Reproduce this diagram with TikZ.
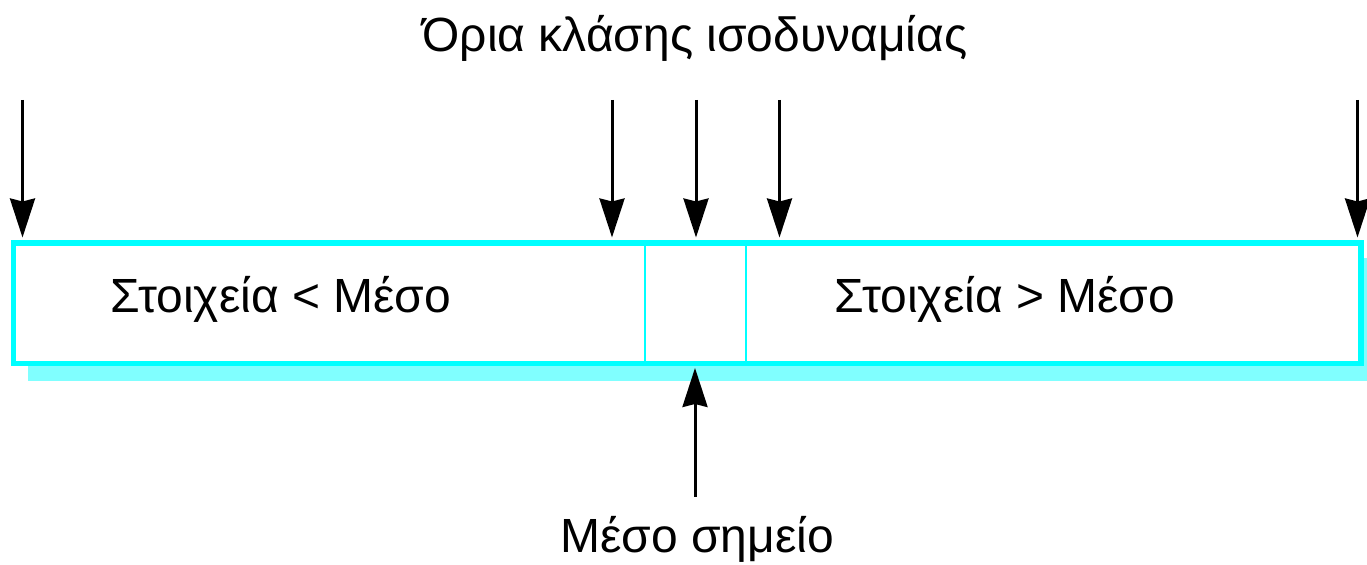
\documentclass[tikz,border=0pt]{standalone}
\usepackage{fontspec}
\setmainfont{Liberation Sans}
\usetikzlibrary{arrows.meta}
\definecolor{boxcyan}{RGB}{0,255,255}
\definecolor{shadowcyan}{RGB}{128,255,255}

\begin{document}
\begin{tikzpicture}[>={Stealth[length=0.78cm,width=0.5cm,inset=0.06cm]},line width=0.06cm,
		part/.style={draw=boxcyan,fill=white,line width=0.04cm,minimum height=2.37cm,inner sep=0pt},
		lbl/.style={anchor=base,inner sep=0pt,font=\fontsize{27.3}{32}\selectfont}]
			\useasboundingbox(0,0)rectangle(27.34,11.3);
			\fill[shadowcyan](0.56,3.68)rectangle(27.34,6.14);
			\node[part,minimum width=12.61cm](low)at(6.595,5.235){};
			\node[part,minimum width=2.01cm](mid)at(13.905,5.235){};
			\node[part,minimum width=12.29cm](high)at(21.055,5.235){};
			\draw[boxcyan,line width=0.11cm](low.north west)rectangle(high.south east);
			\node[lbl](lowtxt)at(5.62,5.04){Στοιχεία < Μέσο};
			\node[lbl](hightxt)at(20.1,5.04){Στοιχεία > Μέσο};
			\node[lbl](bounds)at(13.9,10.26){Όρια κλάσης ισοδυναμίας};
			\node[lbl](midpt)at(13.94,0.24){Μέσο σημείο};
			\foreach \x/\n in {0.45/a,12.24/b,13.92/c,15.59/d,27.15/e}{
				\coordinate(top\n)at(\x,9.3);
				\coordinate(tip\n)at(\x,6.55);
				\draw[->](top\n)--(tip\n);
			}
			\coordinate(foot)at(13.9,1.36);
			\coordinate(head)at(13.9,3.94);
			\draw[->](foot)--(head);
		\end{tikzpicture}
\end{document}
